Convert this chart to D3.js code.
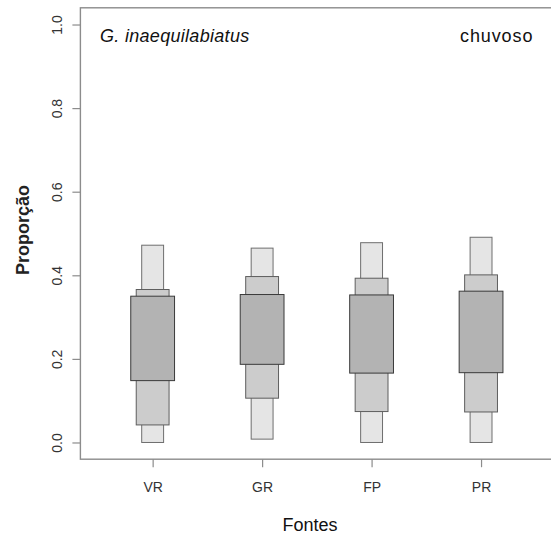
<!DOCTYPE html>
<html>
<head>
<meta charset="utf-8">
<script src="https://cdn.jsdelivr.net/npm/d3@7"></script>
<style>
  html, body { margin: 0; padding: 0; background: #fff; }
  svg { display: block; font-family: "Liberation Sans", Arial, sans-serif; }
</style>
</head>
<body>
<svg id="chart" width="551" height="545"></svg>
<script>
// Sources of diet (credible intervals of the proportion), rainy season
const categories = ["VR", "GR", "FP", "PR"];
const lo95 = [0.000, 0.008, 0.000, 0.000];
const hi95 = [0.472, 0.465, 0.478, 0.491];
const lo75 = [0.042, 0.106, 0.074, 0.073];
const hi75 = [0.366, 0.397, 0.393, 0.401];
const lo50 = [0.148, 0.187, 0.166, 0.167];
const hi50 = [0.350, 0.354, 0.353, 0.362];
const yTicks = [0, 0.2, 0.4, 0.6, 0.8, 1.0];
const yTickLabels = ["0.0", "0.2", "0.4", "0.6", "0.8", "1.0"];

const svg = d3.select("#chart");

const plot = { left: 80.4, right: 553.3, top: 7.8, bottom: 459.2 };

const x = d3.scaleLinear().domain([0.34, 4.66]).range([plot.left, plot.right]);
const y = d3.scaleLinear().domain([-0.04, 1.04]).range([plot.bottom, plot.top]);

// nested interval boxes: widest band drawn first
const bands = [
  { lo: lo95, hi: hi95, w: 0.2, fill: "#e5e5e5", stroke: "#6e6e6e" },
  { lo: lo75, hi: hi75, w: 0.3, fill: "#cccccc", stroke: "#5e5e5e" },
  { lo: lo50, hi: hi50, w: 0.4, fill: "#b3b3b3", stroke: "#3a3a3a" }
];

bands.forEach(b => {
  svg.append("g")
    .selectAll("rect")
    .data(categories)
    .join("rect")
    .attr("x", (d, i) => x(i + 1 - b.w / 2))
    .attr("width", (d, i) => x(i + 1 + b.w / 2) - x(i + 1 - b.w / 2))
    .attr("y", (d, i) => y(b.hi[i]))
    .attr("height", (d, i) => y(b.lo[i]) - y(b.hi[i]))
    .attr("fill", b.fill)
    .attr("stroke", b.stroke)
    .attr("stroke-width", 1);
});

// frame
svg.append("rect")
  .attr("x", plot.left).attr("y", plot.top)
  .attr("width", plot.right - plot.left)
  .attr("height", plot.bottom - plot.top)
  .attr("fill", "none")
  .attr("stroke", "#8c8c8c")
  .attr("stroke-width", 1.4);

// y axis
const yAxis = svg.append("g")
  .attr("transform", `translate(${plot.left},0)`)
  .call(d3.axisLeft(y).tickValues(yTicks).tickSize(8)
    .tickFormat((d, i) => yTickLabels[i]));
yAxis.select(".domain").remove();
yAxis.selectAll(".tick line").attr("stroke", "#8c8c8c").attr("stroke-width", 1.2);
yAxis.selectAll(".tick text")
  .attr("x", 0).attr("dy", null)
  .attr("y", -18)
  .attr("transform", "rotate(-90)")
  .attr("text-anchor", "middle")
  .attr("font-size", 14)
  .attr("fill", "#333");

// x axis
const xAxis = svg.append("g")
  .attr("transform", `translate(0,${plot.bottom})`)
  .call(d3.axisBottom(x).tickValues(categories.map((c, i) => i + 1)).tickSize(8)
    .tickFormat((d, i) => categories[i]));
xAxis.select(".domain").remove();
xAxis.selectAll(".tick line").attr("stroke", "#8c8c8c").attr("stroke-width", 1.2);
xAxis.selectAll(".tick text")
  .attr("y", 0).attr("dy", null)
  .attr("transform", "translate(0,33)")
  .attr("font-size", 14)
  .attr("fill", "#333");

// axis titles
svg.append("text")
  .attr("x", 310).attr("y", 531)
  .attr("text-anchor", "middle")
  .attr("font-size", 18)
  .attr("fill", "#111")
  .text("Fontes");

svg.append("text")
  .attr("transform", "translate(29,230) rotate(-90)")
  .attr("text-anchor", "middle")
  .attr("font-size", 18)
  .attr("font-weight", "bold")
  .attr("fill", "#222")
  .text("Proporção");

// panel annotations
svg.append("text")
  .attr("x", 100).attr("y", 42)
  .attr("font-size", 18)
  .attr("font-style", "italic")
  .attr("letter-spacing", 0.3)
  .attr("fill", "#111")
  .text("G. inaequilabiatus");

svg.append("text")
  .attr("x", 460).attr("y", 42)
  .attr("font-size", 18)
  .attr("letter-spacing", 0.9)
  .attr("fill", "#111")
  .text("chuvoso");
</script>
</body>
</html>
